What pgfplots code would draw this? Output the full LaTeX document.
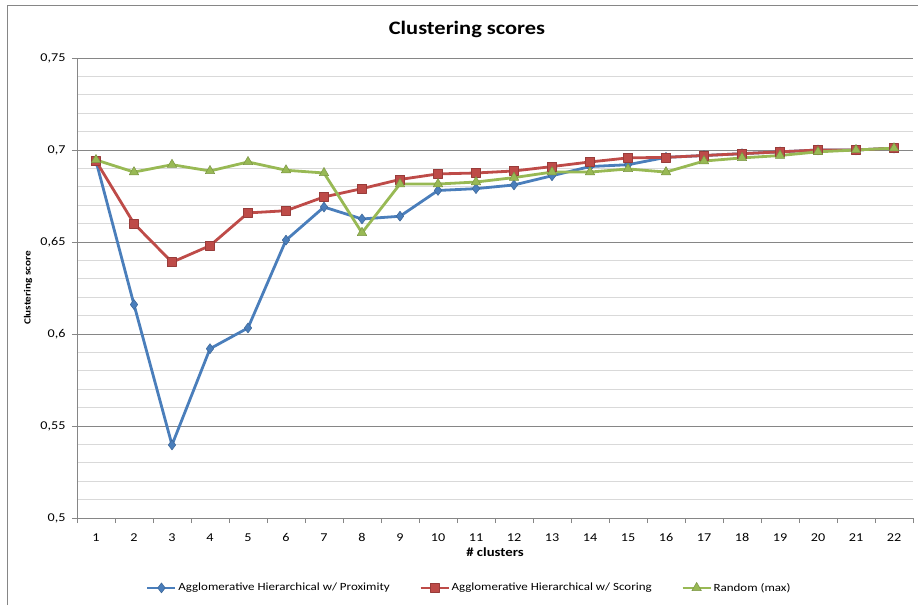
\documentclass[border=0pt]{standalone}
\usepackage{pgfplots}
\pgfplotsset{compat=1.18}
\usepackage{fontspec}
\setmainfont{Carlito}[FakeStretch=1.18]
\definecolor{cblue}{HTML}{4A7EBB}
\definecolor{cred}{HTML}{BE4B48}
\definecolor{cgreen}{HTML}{98B954}
\definecolor{majgrid}{HTML}{868686}
\definecolor{mingrid}{HTML}{D9D9D9}
\begin{document}
\begin{tikzpicture}
\useasboundingbox (-77pt,-87pt) rectangle (841pt,518pt);
\draw[majgrid, line width=0.8pt] (-70pt,-87pt) -- (-70pt,513pt) -- (841pt,513pt);
\node[font=\fontsize{19}{22}\selectfont\bfseries] at (390pt,489pt) {Clustering scores};
\begin{axis}[
  at={(0pt,0pt)}, anchor=south west,
  scale only axis, width=836pt, height=460pt,
  xmin=0.5, xmax=22.5, ymin=0.5, ymax=0.75,
  axis x line*=bottom, axis y line*=left,
  axis line style={majgrid, line width=0.8pt, -},
  xtick={0.5,1.5,...,22.5},
  x tick label as interval,
  xticklabels={1,2,3,4,5,6,7,8,9,10,11,12,13,14,15,16,17,18,19,20,21,22},
  ytick={0.5,0.55,0.6,0.65,0.7,0.75},
  yticklabels={{0,5},{0,55},{0,6},{0,65},{0,7},{0,75}},
  minor y tick num=4,
  ymajorgrids, yminorgrids, xmajorgrids=false,
  major grid style={majgrid, line width=0.8pt},
  minor grid style={mingrid, line width=0.9pt},
  tick align=outside,
  major tick length=5pt, minor tick length=0pt,
  tick style={majgrid, line width=0.8pt},
  ticklabel style={font=\fontsize{12}{14}\selectfont, text=black},
  xticklabel style={yshift=-7pt},
  yticklabel style={xshift=-3pt},
  xlabel={\# clusters}, ylabel={Clustering score},
  xlabel style={font=\fontsize{12.5}{14}\selectfont\bfseries, at={(axis description cs:0.5,-0.0739)}, anchor=center},
  ylabel style={font=\fontsize{9.5}{12}\selectfont\bfseries, at={(axis description cs:-0.0586,0.5)}, anchor=center},
  legend style={at={(0.469,-0.152)}, anchor=center, draw=none, font=\fontsize{11}{13}\selectfont,
    nodes={inner xsep=1.5pt},
    /tikz/every even column/.append style={column sep=28pt}},
  legend columns=3,
  legend image code/.code={\draw[mark repeat=2,mark phase=2] plot coordinates {(0pt,0pt)(14pt,0pt)(28pt,0pt)};},
  every axis plot/.append style={line width=2.8pt, line join=round},
]
\addplot[cblue, mark=diamond*, mark size=5pt, mark options={fill=cblue, draw=cblue!80!black, line width=0.5pt}] coordinates {
(1,0.694)(2,0.616)(3,0.5397)(4,0.592)(5,0.6033)(6,0.651)(7,0.669)(8,0.6625)(9,0.664)(10,0.678)(11,0.679)(12,0.681)(13,0.686)(14,0.691)(15,0.692)(16,0.696)(17,0.697)(18,0.698)(19,0.699)(20,0.700)(21,0.700)(22,0.701)};
\addlegendentry{Agglomerative Hierarchical w/ Proximity}
\addplot[cred, mark=square*, mark size=4.5pt, mark options={fill=cred, draw=cred!80!black, line width=0.5pt}] coordinates {
(1,0.694)(2,0.660)(3,0.639)(4,0.648)(5,0.6658)(6,0.667)(7,0.6745)(8,0.679)(9,0.684)(10,0.687)(11,0.6875)(12,0.6886)(13,0.691)(14,0.6935)(15,0.6957)(16,0.696)(17,0.697)(18,0.698)(19,0.699)(20,0.700)(21,0.700)(22,0.701)};
\addlegendentry{Agglomerative Hierarchical w/ Scoring}
\addplot[cgreen, mark=triangle*, mark size=5.5pt, mark options={fill=cgreen, draw=cgreen!80!black, line width=0.5pt}] coordinates {
(1,0.6946)(2,0.688)(3,0.692)(4,0.6886)(5,0.6935)(6,0.689)(7,0.6875)(8,0.655)(9,0.6815)(10,0.6815)(11,0.6826)(12,0.685)(13,0.688)(14,0.688)(15,0.6897)(16,0.688)(17,0.694)(18,0.6957)(19,0.697)(20,0.699)(21,0.700)(22,0.701)};
\addlegendentry{Random (max)}
\end{axis}
\end{tikzpicture}
\end{document}
